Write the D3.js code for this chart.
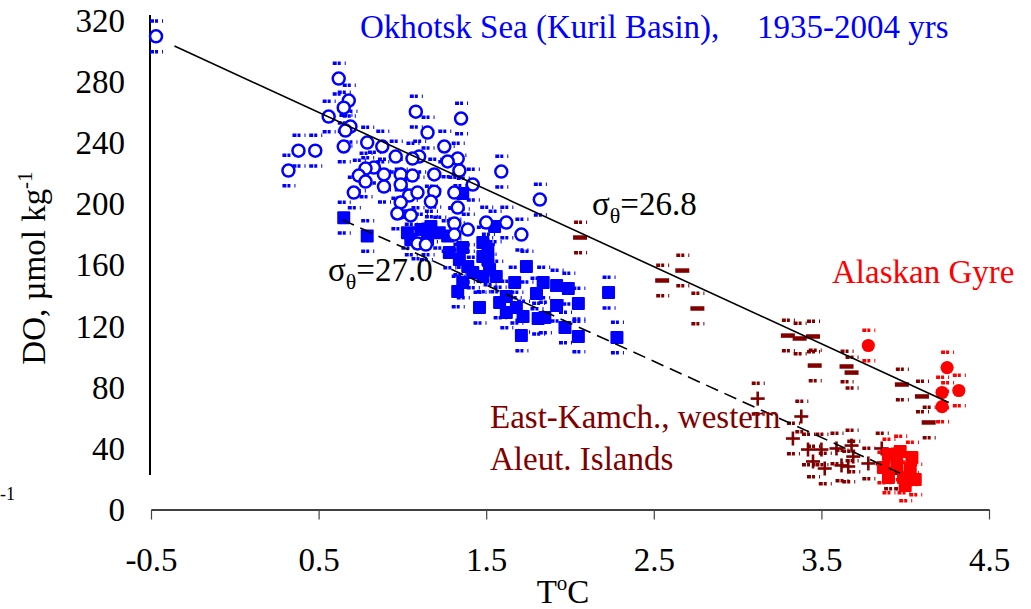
<!DOCTYPE html>
<html>
<head>
<meta charset="utf-8">
<script src="https://cdn.jsdelivr.net/npm/d3@7"></script>
<style>
html,body{margin:0;padding:0;background:#fff;}
svg{display:block;}
text{font-family:"Liberation Serif","Times New Roman",serif;}
</style>
</head>
<body>
<svg id="chart" width="1031" height="609"></svg>
<script>
// ---- Data (T °C, DO µmol/kg) ----
const xTicks = [-0.5, 0.5, 1.5, 2.5, 3.5, 4.5];
const yTicks = [0, 40, 80, 120, 160, 200, 240, 280, 320];
const errDO = 10;

// Okhotsk Sea, sigma 26.8 (open circles)
const okhotsk268 = [
[-0.47,309.3],[0.32,221.6],[0.38,234.6],[0.48,234.6],[0.56,256.9],[0.62,281.7],[0.68,267.3],[0.65,262.7],
[0.69,250.3],[0.66,247.7],[0.65,237.3],[0.79,239.9],[0.88,237.3],[1.08,260.1],[1.35,255.6],[1.15,246.4],
[0.96,230.7],[1.10,230.7],[1.06,229.4],[1.25,237.3],[1.33,229.4],[1.27,227.5],[1.34,221.6],[1.19,219.0],
[1.42,212.4],[0.83,223.5],[0.78,222.9],[0.89,219.0],[0.99,219.0],[1.06,218.3],[0.74,218.3],[0.78,214.4],
[0.89,211.1],[0.99,212.4],[0.71,207.2],[1.04,205.2],[1.09,207.2],[1.19,207.8],[1.31,207.2],[1.59,220.9],
[1.82,202.6],[1.17,201.3],[1.33,197.4],[0.99,200.7],[0.97,193.5],[1.05,192.2],[1.31,186.9],[1.39,183.0],
[1.50,187.6],[1.62,187.6],[1.71,179.7],[1.31,179.7],[1.09,173.9],[1.14,173.2]
];
// Okhotsk Sea, sigma 27.0 (filled squares)
const okhotsk270 = [
[0.65,190.8],[0.79,178.8],[1.03,181.0],[1.11,183.0],[1.17,185.0],[1.22,181.0],[1.27,178.8],[1.05,176.5],
[1.15,176.5],[1.36,206.5],[1.55,185.0],[1.28,168.0],[1.36,171.2],[1.48,174.5],[1.51,169.9],[1.34,163.4],
[1.39,158.8],[1.51,163.4],[1.48,165.4],[1.52,156.9],[1.42,154.9],[1.48,152.3],[1.56,152.3],[1.36,148.4],
[1.33,142.5],[1.74,158.8],[1.67,148.4],[1.84,148.4],[1.92,146.4],[1.99,144.4],[1.80,141.2],[1.62,139.2],
[1.58,135.3],[1.46,132.0],[2.05,134.6],[1.92,133.3],[1.68,132.0],[1.62,128.8],[1.72,126.1],[1.81,124.8],
[1.85,125.5],[1.97,119.0],[2.23,141.8],[2.28,112.4],[1.71,113.7],[2.05,113.1]
];
// East-Kamchatka / western Aleutian Islands, sigma 26.8 (dash markers)
const kamch268 = [
[2.06,177.8],[2.55,149.7],[2.67,156.2],[2.76,131.4],[3.30,113.7],[3.37,111.8],[3.45,113.1],[3.46,94.1],
[3.65,93.5],[3.68,89.5],[3.98,81.7],[4.10,73.9],[4.14,56.9]
];
// East-Kamchatka / western Aleutian Islands, sigma 27.0 (plus markers)
const kamch270 = [
[3.12,72.5],[3.38,60.8],[3.33,46.4],[3.42,39.2],[3.50,39.2],[3.59,39.9],[3.68,41.8],[3.86,39.9],
[3.45,31.4],[3.52,26.8],[3.62,28.8],[3.66,28.1],[3.78,30.1],[3.91,23.5],[3.97,23.5],[3.69,34.6]
];
// Alaskan Gyre, sigma 26.8 (filled circles)
const alaska268 = [[3.78,107.2],[4.25,92.8],[4.22,76.5],[4.32,77.8],[4.22,67.3]];
// Alaskan Gyre, sigma 27.0 (filled squares)
const alaska270 = [
[3.90,35.9],[3.97,37.9],[4.04,34.0],[3.87,27.5],[3.95,29.4],[4.03,26.1],[3.90,20.9],[3.99,20.9],[4.06,19.6],[4.00,15.7]
];
// Isopycnal trend lines
const line268 = [[-0.36,303.0],[4.26,70.0]];
const line270 = [[0.64,189.5],[4.00,22.2]];
const yAxisSpan = [22.6, 323.3];

// ---- Chart ----
const svg = d3.select("#chart");
const x = d3.scaleLinear().domain([-0.5, 4.5]).range([151, 989]);
const y = d3.scaleLinear().domain([0, 320]).range([509.5, 20]);
const BLUE = "#0000ff", DRED = "#800000", RED = "#ff0000";
const FS = 33;

// X axis
const gx = svg.append("g").attr("transform", `translate(0,${y(0)})`)
  .call(d3.axisBottom(x).tickValues(xTicks).tickSize(10).tickSizeOuter(0).tickPadding(28)
    .tickFormat(d => d3.format(".1f")(d).replace("−", "-")));
gx.select(".domain").attr("stroke", "#000").attr("stroke-width", 1.3);
gx.selectAll(".tick line").attr("stroke", "#444").attr("stroke-width", 1.2);
gx.selectAll(".tick text").attr("font-size", FS).attr("fill", "#000")
  .style("font-family", '"Liberation Serif","Times New Roman",serif');

// Y axis
const gy = svg.append("g").attr("transform", `translate(150,0)`)
  .call(d3.axisLeft(y).tickValues(yTicks).tickSize(0).tickPadding(25));
gy.select(".domain").remove();
gy.selectAll(".tick text").attr("font-size", FS).attr("fill", "#000").attr("dy", "0.34em")
  .style("font-family", '"Liberation Serif","Times New Roman",serif');
svg.append("line").attr("x1", 150).attr("x2", 150)
  .attr("y1", y(yAxisSpan[0])).attr("y2", y(yAxisSpan[1]))
  .attr("stroke", "#000").attr("stroke-width", 2);

// Axis titles
const xt = svg.append("text").attr("x", 563).attr("y", 603).attr("text-anchor", "middle").attr("font-size", FS);
xt.append("tspan").text("T");
xt.append("tspan").attr("font-size", 21).attr("dy", -13).text("o");
xt.append("tspan").attr("dy", 13).text("C");

const yt = svg.append("text").attr("transform", "translate(45,268) rotate(-90)")
  .attr("text-anchor", "middle").attr("font-size", FS);
yt.append("tspan").text("DO, \u00b5mol kg");
yt.append("tspan").attr("font-size", 21).attr("dy", -13).text("-1");

svg.append("text").attr("x", 0).attr("y", 500).attr("font-size", 18).text("-1");

// Error caps helper
function caps(data, color) {
  const g = svg.append("g");
  data.forEach(d => {
    [d[1] + errDO, d[1] - errDO].forEach(v => {
      g.append("line").attr("x1", x(d[0]) - 6).attr("x2", x(d[0]) + 7)
        .attr("y1", y(v)).attr("y2", y(v))
        .attr("stroke", color).attr("stroke-width", 3.5)
        .attr("stroke-dasharray", "4,1,3,4,1,20");
    });
  });
}

// Okhotsk squares
caps(okhotsk270, BLUE);
svg.append("g").selectAll("rect").data(okhotsk270).join("rect")
  .attr("x", d => x(d[0]) - 6.5).attr("y", d => y(d[1]) - 6.5)
  .attr("width", 13).attr("height", 13).attr("rx", 1).attr("fill", BLUE);

// Okhotsk circles
caps(okhotsk268, BLUE);
svg.append("g").selectAll("circle").data(okhotsk268).join("circle")
  .attr("cx", d => x(d[0])).attr("cy", d => y(d[1])).attr("r", 6)
  .attr("fill", "#fff").attr("stroke", BLUE).attr("stroke-width", 2.5);

// Kamchatka dashes
caps(kamch268, DRED);
svg.append("g").selectAll("line").data(kamch268).join("line")
  .attr("x1", d => x(d[0]) - 7).attr("x2", d => x(d[0]) + 7)
  .attr("y1", d => y(d[1])).attr("y2", d => y(d[1]))
  .attr("stroke", DRED).attr("stroke-width", 4.5);

// Kamchatka plus
caps(kamch270, DRED);
const pg = svg.append("g").attr("stroke", DRED).attr("stroke-width", 2.6);
kamch270.forEach(d => {
  pg.append("line").attr("x1", x(d[0]) - 7).attr("x2", x(d[0]) + 7).attr("y1", y(d[1])).attr("y2", y(d[1]));
  pg.append("line").attr("x1", x(d[0])).attr("x2", x(d[0])).attr("y1", y(d[1]) - 7).attr("y2", y(d[1]) + 7);
});

// Alaskan Gyre
caps(alaska270, RED);
svg.append("g").selectAll("rect").data(alaska270).join("rect")
  .attr("x", d => x(d[0]) - 6.5).attr("y", d => y(d[1]) - 6.5)
  .attr("width", 13).attr("height", 13).attr("rx", 1).attr("fill", RED);
caps(alaska268, RED);
svg.append("g").selectAll("circle").data(alaska268).join("circle")
  .attr("cx", d => x(d[0])).attr("cy", d => y(d[1])).attr("r", 6.6).attr("fill", RED);

// Trend lines
const lineGen = d3.line().x(d => x(d[0])).y(d => y(d[1]));
svg.append("path").attr("d", lineGen(line268)).attr("fill", "none").attr("stroke", "#000").attr("stroke-width", 1.6);
svg.append("path").attr("d", lineGen(line270)).attr("fill", "none").attr("stroke", "#000").attr("stroke-width", 1.6)
  .attr("stroke-dasharray", "13,7");

// Annotations
svg.append("text").attr("x", 360).attr("y", 38).attr("font-size", FS).attr("fill", BLUE)
  .text("Okhotsk Sea (Kuril Basin),");
svg.append("text").attr("x", 757).attr("y", 38).attr("font-size", FS).attr("fill", BLUE)
  .text("1935-2004 yrs");

function sigma(xp, yp, val) {
  const t = svg.append("text").attr("x", xp).attr("y", yp).attr("font-size", FS).attr("fill", "#000");
  t.append("tspan").text("\u03c3");
  t.append("tspan").attr("font-size", 22).attr("dy", 8).text("\u03b8");
  t.append("tspan").attr("dy", -8).text("=" + val);
}
sigma(592, 215, "26.8");
sigma(328, 281, "27.0");

svg.append("text").attr("x", 832).attr("y", 283).attr("font-size", FS).attr("fill", RED).text("Alaskan Gyre");
svg.append("text").attr("x", 490).attr("y", 428).attr("font-size", FS).attr("fill", DRED).text("East-Kamch., western");
svg.append("text").attr("x", 490).attr("y", 470).attr("font-size", FS).attr("fill", DRED).text("Aleut. Islands");
</script>
</body>
</html>
